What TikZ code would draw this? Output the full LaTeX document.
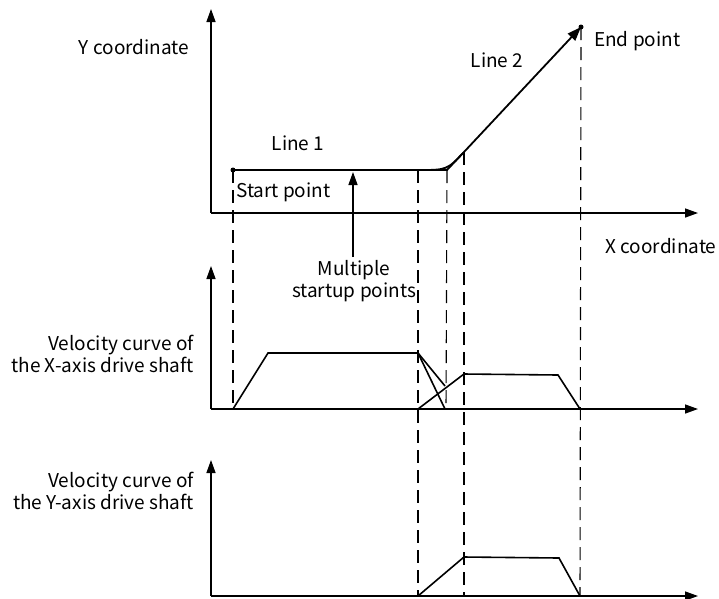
\documentclass[tikz,border=0pt]{standalone}
\usepackage{fontspec}
\setmainfont{Noto Sans CJK SC}
\usetikzlibrary{arrows.meta}
\begin{document}
\begin{tikzpicture}[x=1pt,y=-1pt,
  axis/.style={line width=1.4pt,-{Triangle[length=13pt,width=9pt]}},
  curve/.style={line width=1.8pt},
  vel/.style={line width=1.6pt},
  guide/.style={line width=1.1pt,dash pattern=on 13pt off 7pt},
  lbl/.style={font=\fontsize{19}{21.5}\selectfont,inner sep=0pt},
  dot/.style={circle,fill,inner sep=0pt,minimum size=5pt}]
\useasboundingbox (0,0) rectangle (719,598);
% axes origins
\coordinate (o1) at (211,213); \coordinate (y1) at (211,9); \coordinate (x1) at (698,213);
\coordinate (o2) at (211,409); \coordinate (y2) at (211,266); \coordinate (x2) at (698,409);
\coordinate (o3) at (211,596); \coordinate (y3) at (211,460); \coordinate (x3) at (698,596);
\draw[axis] (o1) -- (y1); \draw[axis] (o1) -- (x1);
\draw[axis] (o2) -- (y2); \draw[axis] (o2) -- (x2);
\draw[axis] (o3) -- (y3); \draw[axis] (o3) -- (x3);
% path points
\node[dot] (start) at (233,170) {};
\node[dot] (end) at (581,27) {};
\coordinate (c1) at (418,170);
\coordinate (corner) at (447,170);
\coordinate (c2) at (464,152);
\draw[curve] (start.center) -- (corner) -- (c2);
\draw[curve,-{Triangle[length=14pt,width=10pt]}] (c2) -- (end.center);
\draw[curve] (c1) .. controls (corner) .. (c2);
% guides
\draw[guide] (start.center) -- (233,409);
\draw[guide] (c1) -- (418,596);
\draw[guide] (corner) -- (446,409);
\draw[guide] (c2) -- (464,596);
\draw[guide] (end.center) -- (580,596);
% X velocity
\draw[vel] (233,409) -- (268,353) -- (418,353) -- (445,409);
\draw[vel] (418,353) -- (445,386);
\draw[vel] (418,409) -- (464,374) -- (558,375) -- (580,409);
% Y velocity
\draw[vel] (418,596) -- (464,557) -- (559,558) -- (580,596);
% labels
\node[lbl] (ylab) at (134,47) {Y coordinate};
\node[lbl] (l1) at (298,143) {Line 1};
\node[lbl] (l2) at (497,60) {Line 2};
\node[lbl,anchor=west] (ep) at (594,41) {End point};
\node[lbl,anchor=west] (sp) at (236,192) {Start point};
\node[lbl] (xlab) at (661,246) {X coordinate};
\node[lbl,align=center] (multi) at (354,281) {Multiple\\startup points};
\draw[line width=1.4pt,-{Triangle[length=13pt,width=9pt]}] (353,257) -- (353,172);
\node[lbl,align=right,anchor=east] (vx) at (194,354) {Velocity curve of\\the X-axis drive shaft};
\node[lbl,align=right,anchor=east] (vy) at (194,491) {Velocity curve of\\the Y-axis drive shaft};
\end{tikzpicture}
\end{document}
